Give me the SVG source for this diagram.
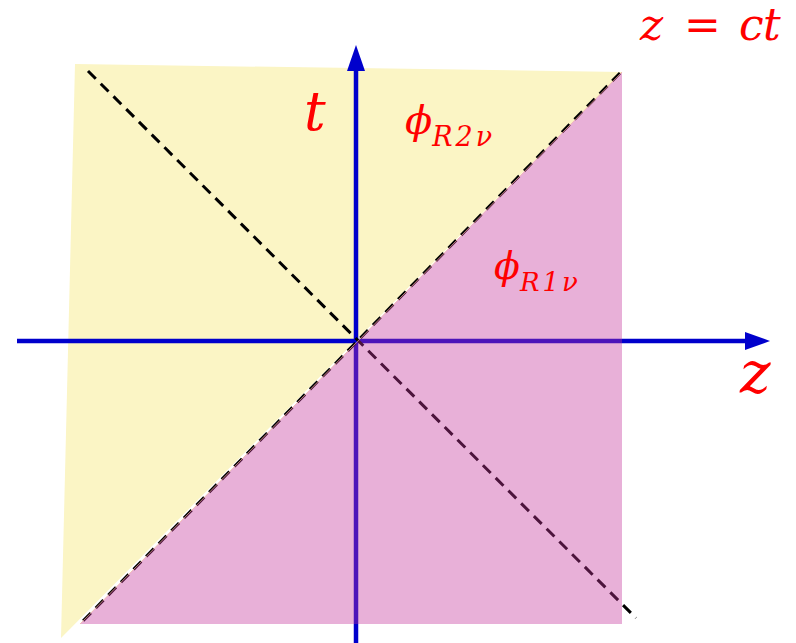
<svg xmlns="http://www.w3.org/2000/svg" width="796" height="643" viewBox="0 0 796 643">
  <defs>
    <style>
      .axis { stroke: #0000CC; stroke-width: 4.5; fill: none; }
      .head { fill: #0000CC; }
      .dash { stroke: #000000; stroke-width: 3; stroke-dasharray: 11 7; fill: none; }
      .lbl { fill: #FF0000; font-family: "DejaVu Serif", "Liberation Serif", serif; font-style: italic; }
    </style>
  </defs>
  <rect width="796" height="643" fill="#FFFFFF"/>
  <g id="region-R2">
    <polygon points="75,64 622,72 61,638" fill="#FBF5C5"/>
  </g>
  <g id="axes">
    <line class="axis" x1="17" y1="341" x2="750" y2="341"/>
    <polygon class="head" points="770,341 745,332 745,350"/>
    <line class="axis" x1="356" y1="643" x2="356" y2="66"/>
    <polygon class="head" points="356,45 347,71 365,71"/>
  </g>
  <g id="connectors">
    <line class="dash" x1="620" y1="73" x2="82" y2="622"/>
    <line class="dash" x1="88" y1="71" x2="636" y2="618"/>
  </g>
  <g id="region-R1">
    <polygon points="622,72 622,624 80,624" fill="#C3349A" fill-opacity="0.39"/>
    <line x1="622" y1="72" x2="80" y2="624" stroke="#F2B49C" stroke-width="1" stroke-opacity="0.7"/>
  </g>
  <g id="labels">
    <text class="lbl" font-size="44" y="40"><tspan x="640">z</tspan><tspan x="684" font-style="normal">=</tspan><tspan x="739">c</tspan><tspan x="763">t</tspan></text>
    <text class="lbl" font-size="54" x="304" y="130">t</text>
    <text class="lbl" font-size="58" x="740" y="393">z</text>
    <text class="lbl" x="405" y="134"><tspan font-size="40">ϕ</tspan><tspan font-size="27" dy="12" letter-spacing="3">R2ν</tspan></text>
    <text class="lbl" x="494" y="279"><tspan font-size="38">ϕ</tspan><tspan font-size="26" dy="12" letter-spacing="3">R1ν</tspan></text>
  </g>
</svg>
